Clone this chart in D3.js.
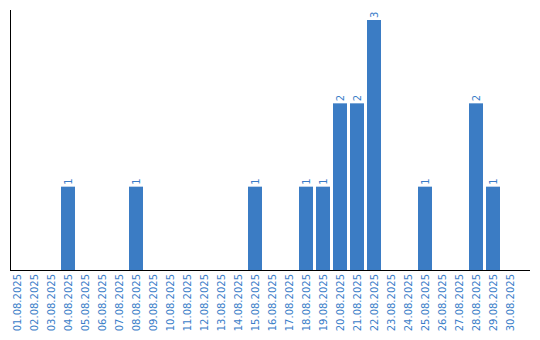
<!DOCTYPE html>
<html lang="en">
<head>
    <meta charset="UTF-8">
    <title>Daily count</title>
    <script src="https://d3js.org/d3.v7.min.js"></script>
    <style>
        body, html {
            margin: 0px;
            background: #fff;
        }
        text {
            font-family: 'DejaVu Sans', Verdana, sans-serif;
            font-size: 10px;
            fill: #3a7dc8;
        }
    </style>
</head>
<body>
    <div id="chart"></div>
    <script>
        // days of August 2025
        const days = ["01", "02", "03", "04", "05", "06", "07", "08", "09", "10",
            "11", "12", "13", "14", "15", "16", "17", "18", "19", "20",
            "21", "22", "23", "24", "25", "26", "27", "28", "29", "30"]
        const dateLabels = days.map(d => d + ".08.2025")
        const counts = [0, 0, 0, 1, 0, 0, 0, 1, 0, 0,
            0, 0, 0, 0, 1, 0, 0, 1, 1, 2,
            2, 3, 0, 0, 1, 0, 0, 2, 1, 0]

        const width = 540, height = 340
        const mLeft = 10, mRight = 530, mTop = 10, mBottom = 270

        const svg = d3.select("#chart")
            .append("svg")
            .attr("width", width)
            .attr("height", height)

        const x = d3.scaleBand()
            .domain(dateLabels)
            .range([mLeft, mLeft + 17 * dateLabels.length])
            .padding(0)

        const y = d3.scaleLinear()
            .domain([0, 3])
            .range([mBottom, 20])

        const barW = x.bandwidth() - 3

        const data = dateLabels.map((d, i) => ({ label: d, value: counts[i] }))

        // bars
        svg.append("g")
            .selectAll("rect")
            .data(data.filter(d => d.value > 0))
            .enter()
            .append("rect")
            .attr("x", d => x(d.label))
            .attr("y", d => y(d.value))
            .attr("width", barW)
            .attr("height", d => y(0) - y(d.value))
            .style("fill", "#3b7cc4")

        // value labels
        svg.append("g")
            .selectAll("text")
            .data(data.filter(d => d.value > 0))
            .enter()
            .append("text")
            .attr("transform", d => `translate(${x(d.label) + barW / 2 + 3.5},${y(d.value) - 2}) rotate(-90)`)
            .attr("text-anchor", "start")
            .text(d => d.value)

        // x labels
        svg.append("g")
            .selectAll("text")
            .data(data)
            .enter()
            .append("text")
            .attr("transform", d => `translate(${x(d.label) + barW / 2 + 3.5},${mBottom + 4}) rotate(-90)`)
            .attr("text-anchor", "end")
            .text(d => d.label)

        // axis lines
        svg.append("line")
            .attr("x1", mLeft + 0.5).attr("x2", mLeft + 0.5)
            .attr("y1", mTop).attr("y2", mBottom)
            .style("stroke", "#000")
        svg.append("line")
            .attr("x1", mLeft).attr("x2", mRight)
            .attr("y1", mBottom + 0.5).attr("y2", mBottom + 0.5)
            .style("stroke", "#000")
    </script>
</body>
</html>
